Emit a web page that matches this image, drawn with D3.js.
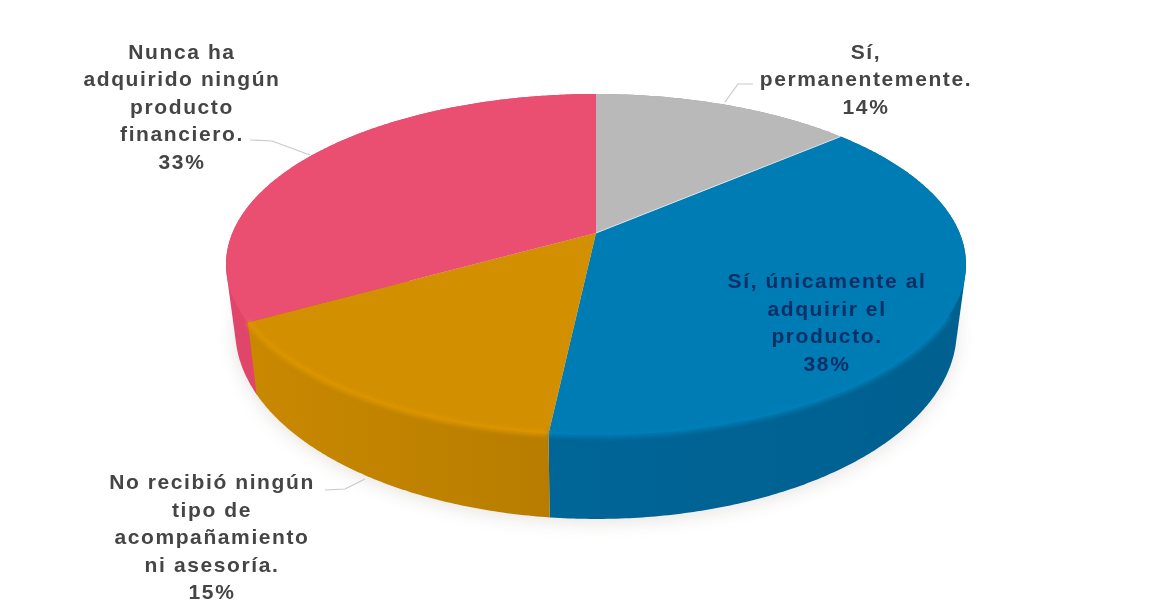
<!DOCTYPE html>
<html lang="es">
<head>
<meta charset="utf-8">
<title>Acompañamiento</title>
<script src="https://d3js.org/d3.v7.min.js"></script>
<style>
    html, body { margin: 0; padding: 0; background: #fff; }
    svg { display: block; }
    text { font-family: "Liberation Sans", Arial, sans-serif; font-size: 21px; font-weight: bold; letter-spacing: 1.6px; text-anchor: middle; fill: #444; }
</style>
</head>
<body>
<script>
// data
let categories = [
    ["Sí,", "permanentemente."],
    ["Sí, únicamente al", "adquirir el", "producto."],
    ["No recibió ningún", "tipo de", "acompañamiento", "ni asesoría."],
    ["Nunca ha", "adquirido ningún", "producto", "financiero."]
];
let values = [13.6, 38.1, 15.1, 33.2];
let topColors = ["#b9b9b9", "#027bb4", "#d28f00", "#ea4f72"];
let wallLeft = ["#999999", "#006a9e", "#c98800", "#e0456b"];
let wallRight = ["#999999", "#02608f", "#b87d00", "#d94366"];

// label layout: centre x, first baseline, colour
let labelX = [866, 827, 212, 182];
let labelY = [58.5, 288, 489, 58.5];
let labelFill = ["#444", "#0b2f66", "#444", "#444"];
let lineGap = 27.6;

// leader lines
let leaders = [
    [[753, 84], [738, 84], [725, 102]],
    null,
    [[325, 490], [345, 489], [365, 479]],
    [[250, 140], [272, 141], [310, 155]]
];

// walls are painted back to front
let wallOrder = [3, 0, 1, 2];

let w = 1150, h = 610;
let cx = 596, cy = 233;           // apex of the pie on screen
let persp = -0.185, ax = 363.6, ay = 164.7;
let rimMidY = 265, bottomMidY = 331, bottomX = 0.975, bottomY = 1.105;

// disc seen in perspective: angle -> screen point
function project(a) {
    let u = Math.sin(a), v = -Math.cos(a);
    let d = 1 + persp * v;
    return [cx + ax * u / d, cy + ay * v / d];
}
function projectBottom(a) {
    let p = project(a);
    return [cx + (p[0] - cx) * bottomX, bottomMidY + (p[1] - rimMidY) * bottomY];
}

let arcs = d3.pie().sort(null).value(d => d).startAngle(0).endAngle(2 * Math.PI)(values);
let line = d3.line();
let rimAngles = d => d3.range(d.startAngle, d.endAngle, 0.01).concat([d.endAngle]);

let svg = d3.select("body").append("svg").attr("width", w).attr("height", h);
let defs = svg.append("defs");

defs.append("filter").attr("id", "shadow")
    .attr("x", "-10%").attr("y", "-10%").attr("width", "120%").attr("height", "125%")
    .append("feGaussianBlur").attr("stdDeviation", 9);
defs.append("filter").attr("id", "soft")
    .append("feGaussianBlur").attr("stdDeviation", 0.6);
defs.append("filter").attr("id", "softer")
    .attr("x", "-5%").attr("y", "-5%").attr("width", "110%").attr("height", "110%")
    .append("feGaussianBlur").attr("stdDeviation", 2);

arcs.forEach((d, i) => {
    let g = defs.append("linearGradient").attr("id", "wall" + i)
        .attr("gradientUnits", "userSpaceOnUse")
        .attr("x1", i === 2 ? 250 : 226).attr("x2", i === 2 ? 548 : 965).attr("y1", 0).attr("y2", 0);
    g.append("stop").attr("offset", 0).attr("stop-color", wallLeft[i]);
    g.append("stop").attr("offset", 1).attr("stop-color", wallRight[i]);
});

// soft shadow under the pie
svg.append("path")
    .attr("d", line(d3.range(0, 2 * Math.PI, 0.02).map(projectBottom)) + "Z")
    .attr("fill", "#b8b0a8")
    .attr("opacity", 0.35)
    .attr("filter", "url(#shadow)")
    .attr("transform", "translate(0,3)");

let pie3d = svg.append("g").attr("filter", "url(#soft)");

// side walls, hull of the rim and its lower edge; the faces cover the inner part
pie3d.selectAll("path.wall")
    .data(wallOrder.map(i => arcs[i]))
    .enter()
    .append("path")
    .attr("class", "wall")
    .attr("d", d => {
        let a = rimAngles(d);
        return line(d3.polygonHull(a.map(project).concat(a.map(projectBottom)))) + "Z";
    })
    .attr("fill", d => `url(#wall${d.index})`);

// top faces
pie3d.selectAll("path.face")
    .data(arcs)
    .enter()
    .append("path")
    .attr("class", "face")
    .attr("d", d => line([[cx, cy]].concat(rimAngles(d).map(project))) + "Z")
    .attr("fill", (d, i) => topColors[i]);

// lighter bevel round the front of the orange and blue slices
pie3d.selectAll("path.rim")
    .data(arcs.filter((d, i) => i === 1 || i === 2))
    .enter()
    .append("path")
    .attr("class", "rim")
    .attr("d", d => line(rimAngles(d).filter(a => d.index === 2 || Math.cos(a) < -0.45).map(project)))
    .attr("fill", "none")
    .attr("stroke", d => d.index === 2 ? "#e09800" : "#0480ba")
    .attr("stroke-width", 4)
    .attr("filter", "url(#softer)");

// thin seam between grey and blue
pie3d.append("path")
    .attr("d", line([[cx, cy], project(arcs[1].startAngle)]))
    .attr("stroke", "#dfe6ea")
    .attr("stroke-width", 1)
    .attr("fill", "none");

// leader lines
svg.selectAll("path.leader")
    .data(leaders.filter(d => d))
    .enter()
    .append("path")
    .attr("class", "leader")
    .attr("d", d => line(d))
    .attr("fill", "none")
    .attr("stroke", "#c9c9c9")
    .attr("stroke-width", 1.2);

// labels
let labels = svg.selectAll("text.label")
    .data(arcs)
    .enter()
    .append("text")
    .attr("class", "label")
    .attr("filter", "url(#soft)")
    .style("fill", (d, i) => labelFill[i]);

labels.selectAll("tspan")
    .data((d, i) => categories[i].concat([Math.round(d.value) + "%"]).map((t, k) => ({ t: t, k: k, i: i })))
    .enter()
    .append("tspan")
    .attr("x", d => labelX[d.i])
    .attr("y", d => labelY[d.i] + d.k * lineGap)
    .text(d => d.t);
</script>
</body>
</html>
